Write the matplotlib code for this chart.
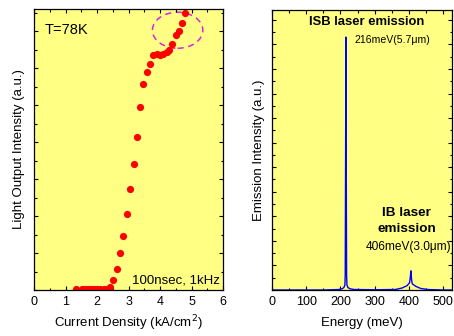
import matplotlib
matplotlib.use('Agg')
import matplotlib.pyplot as plt
from matplotlib.patches import Ellipse
from matplotlib.ticker import MultipleLocator, NullFormatter

plt.rcParams['font.family'] = ['Liberation Sans', 'DejaVu Sans']

# light output vs current density (78K)
current = [1.32, 1.51, 1.61, 1.71, 1.81, 1.91, 2.01, 2.11, 2.21, 2.31, 2.41,
           2.50, 2.63, 2.73, 2.83, 2.94, 3.06, 3.17, 3.26, 3.37, 3.47, 3.58,
           3.68, 3.79, 3.90, 4.00, 4.10, 4.21, 4.30, 4.39, 4.50, 4.60, 4.70, 4.80]
light = [0.04, 0.06, 0.06, 0.06, 0.06, 0.06, 0.06, 0.07, 0.07, 0.08, 0.18,
         0.54, 1.12, 1.98, 2.92, 4.09, 5.44, 6.81, 8.29, 9.88, 11.14, 11.77,
         12.25, 12.70, 12.79, 12.73, 12.79, 12.88, 12.97, 13.33, 13.78, 14.0, 14.45, 15.0]

# emission spectrum
energy = [0, 150, 195, 205, 210, 213, 214, 215, 216, 217, 218, 219, 222, 228, 240, 300,
          360, 380, 395, 402, 404, 406, 408, 410, 420, 435, 455, 500, 525]
intensity = [0.0, 0.0, 0.02, 0.05, 0.1, 0.2, 0.6, 5.0, 10.3, 5.0, 0.6, 0.2, 0.1, 0.05, 0.02, 0.01,
             0.02, 0.08, 0.18, 0.3, 0.5, 0.78, 0.4, 0.25, 0.15, 0.06, 0.02, 0.0, 0.0]

bg = '#ffff84'
fig = plt.figure(figsize=(4.54, 3.36), dpi=100)

ax1 = fig.add_axes([34/454, 46/336, 189/454, 281/336])
ax1.set_facecolor(bg)
ax1.plot(current, light, 'o', color='#ff0000', markersize=5.2, markeredgewidth=0)
ax1.add_patch(Ellipse((4.56, 14.05), 1.6, 1.95, fill=False, edgecolor='#e020e0',
                      linestyle=(0, (4, 3)), linewidth=1.1))
ax1.set_xlim(0, 6)
ax1.set_ylim(0, 15.2)
ax1.xaxis.set_major_locator(MultipleLocator(1))
ax1.xaxis.set_minor_locator(MultipleLocator(0.5))
ax1.yaxis.set_major_locator(MultipleLocator(2))
ax1.yaxis.set_minor_locator(MultipleLocator(1))
ax1.yaxis.set_major_formatter(NullFormatter())
ax1.text(0.35, 14.05, 'T=78K', fontsize=10.5, va='center', ha='left')
ax1.text(0.984, 0.012, '100nsec, 1kHz', fontsize=9.5, va='bottom', ha='right',
         transform=ax1.transAxes)
ax1.set_xlabel('Current Density (kA/cm$^2$)', fontsize=9.5)
ax1.set_ylabel('Light Output Intensity (a.u.)', fontsize=9.5)
ax1.xaxis.set_label_coords(0.5, -0.085)
ax1.yaxis.set_label_coords(-0.05, 0.5)

ax2 = fig.add_axes([272/454, 46/336, 180/454, 280/336])
ax2.set_facecolor(bg)
ax2.plot(energy, intensity, color='#0000ff', linewidth=1.0)
ax2.set_xlim(0, 526)
ax2.set_ylim(0, 11.4)
ax2.xaxis.set_major_locator(MultipleLocator(100))
ax2.xaxis.set_minor_locator(MultipleLocator(50))
ax2.yaxis.set_major_locator(MultipleLocator(1))
ax2.yaxis.set_minor_locator(MultipleLocator(0.5))
ax2.yaxis.set_major_formatter(NullFormatter())
ax2.text(276, 10.9, 'ISB laser emission', fontsize=9.4, fontweight='bold',
         ha='center', va='center')
ax2.text(240, 10.17, '216meV(5.7\u03bcm)', fontsize=7.6, ha='left', va='center')
ax2.text(394, 2.79, 'IB laser\nemission', fontsize=9.7, fontweight='bold',
         ha='center', va='center', linespacing=1.45)
ax2.text(398, 1.74, '406meV(3.0\u03bcm)', fontsize=8.6, ha='center', va='center')
ax2.set_xlabel('Energy (meV)', fontsize=9.5)
ax2.set_ylabel('Emission Intensity (a.u.)', fontsize=9.5)
ax2.xaxis.set_label_coords(0.5, -0.096)
ax2.yaxis.set_label_coords(-0.04, 0.5)

for ax in (ax1, ax2):
    ax.tick_params(which='both', direction='in', top=True, right=True,
                   labelsize=9, width=0.8)
    ax.tick_params(which='major', length=3.2, pad=4)
    ax.tick_params(which='minor', length=1.8)
    for s in ax.spines.values():
        s.set_linewidth(0.9)

fig.savefig('out.png', dpi=100)
